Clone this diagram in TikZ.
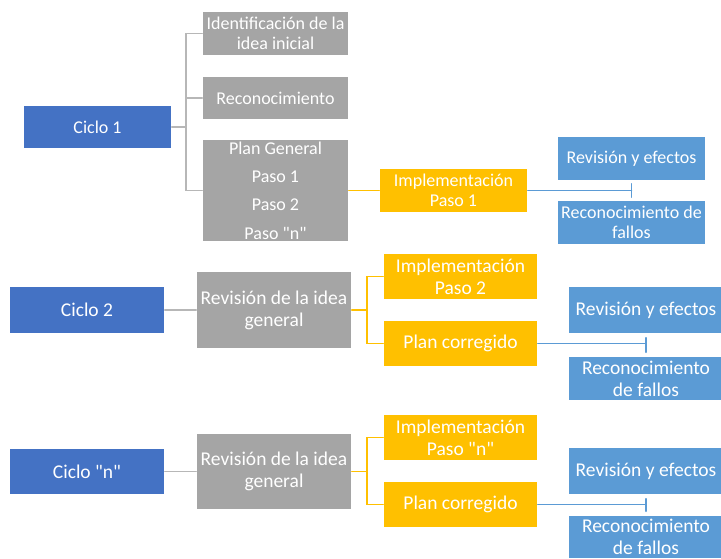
\documentclass[tikz,border=0pt]{standalone}
\usepackage{fontspec}
\setmainfont{Carlito}[Ligatures=TeXOff]
\definecolor{azul}{HTML}{4472C4}
\definecolor{gris}{HTML}{A5A5A5}
\definecolor{amar}{HTML}{FFC000}
\definecolor{celeste}{HTML}{5B9BD5}
\begin{document}
\begin{tikzpicture}[x=1pt,y=-1pt,line width=1.6pt,line cap=round,
	caja/.style={text=white,inner sep=0pt,align=center},
	ciclo/.style={caja,fill=azul},
	gbox/.style={caja,fill=gris},
	ybox/.style={caja,fill=amar},
	bbox/.style={caja,fill=celeste},
	f1/.style={font=\fontsize{18}{20}\selectfont},
	f2/.style={font=\fontsize{19.5}{22}\selectfont},
	lgris/.style={draw=gris!80},
	lamar/.style={draw=amar},
	lazul/.style={draw=celeste}]
	\useasboundingbox (0,0) rectangle (721,558);
	\node[ciclo,f1,minimum width=147,minimum height=42] (c1) at (97.5,127) {Ciclo 1};
	\node[gbox,f1,minimum width=145,minimum height=43] (idea) at (275.5,33.5) {Identificación de la\\idea inicial};
	\node[gbox,f1,minimum width=145,minimum height=42] (recon) at (275.5,98) {Reconocimiento};
	\node[gbox,font=\fontsize{18}{28.3}\selectfont,minimum width=145,minimum height=101] (plan) at (275.5,190.5) {Plan General\\Paso 1\\Paso 2\\Paso "n"};
	\node[ybox,f1,minimum width=147,minimum height=43] (imp1) at (453.5,190.5) {Implementación\\Paso 1};
	\node[bbox,f1,minimum width=147,minimum height=43] (rev1) at (631.5,158.5) {Revisión y efectos};
	\node[bbox,f1,minimum width=147,minimum height=43] (fal1) at (631.5,222.5) {Reconocimiento de\\fallos};
	\coordinate (r1) at (186,127);
	\draw[lgris] (c1) -- (r1) (r1) |- (idea) (r1) |- (recon) (r1) |- (plan);
	\draw[lamar] (plan) -- (imp1);
	\draw[lazul] (imp1) -- (imp1 -| rev1);
	\draw[lazul] ([yshift=-3pt]rev1.south) -- ([yshift=3pt]fal1.north);

	\node[ciclo,f2,minimum width=154,minimum height=46] (c2) at (87,310) {Ciclo 2};
	\node[gbox,f2,minimum width=154,minimum height=76] (rg2) at (274,310) {Revisión de la idea\\general};
	\node[ybox,f2,minimum width=153,minimum height=45] (imp2) at (460.5,276.5) {Implementación\\Paso 2};
	\node[ybox,f2,minimum width=153,minimum height=45] (pc2) at (460.5,343.5) {Plan corregido};
	\node[bbox,f2,minimum width=154,minimum height=46] (rev2) at (646,310) {Revisión y efectos};
	\node[bbox,f2,minimum width=154,minimum height=43] (fal2) at (646,378.5) {Reconocimiento\\de fallos};
	\coordinate (a2) at (367,310);
	\draw[lgris] (c2) -- (rg2);
	\draw[lamar] (rg2) -- (a2) (a2) |- (imp2) (a2) |- (pc2);
	\draw[lazul] (pc2) -- (pc2 -| rev2);
	\draw[lazul] ([yshift=-4pt]rev2.south) -- ([yshift=4pt]fal2.north);

	\node[ciclo,f2,minimum width=154,minimum height=45] (cn) at (87,471.5) {Ciclo "n"};
	\node[gbox,f2,minimum width=154,minimum height=75] (rgn) at (274,471.5) {Revisión de la idea\\general};
	\node[ybox,f2,minimum width=153,minimum height=45] (impn) at (460.5,437.5) {Implementación\\Paso "n"};
	\node[ybox,f2,minimum width=153,minimum height=45] (pcn) at (460.5,504.5) {Plan corregido};
	\node[bbox,f2,minimum width=154,minimum height=46] (revn) at (646,471) {Revisión y efectos};
	\node[bbox,f2,minimum width=154,minimum height=42] (faln) at (646,537) {Reconocimiento\\de fallos};
	\coordinate (an) at (367,471.5);
	\draw[lgris] (cn) -- (rgn);
	\draw[lamar] (rgn) -- (an) (an) |- (impn) (an) |- (pcn);
	\draw[lazul] (pcn) -- (pcn -| revn);
	\draw[lazul] ([yshift=-4pt]revn.south) -- ([yshift=4pt]faln.north);
\end{tikzpicture}
\end{document}
